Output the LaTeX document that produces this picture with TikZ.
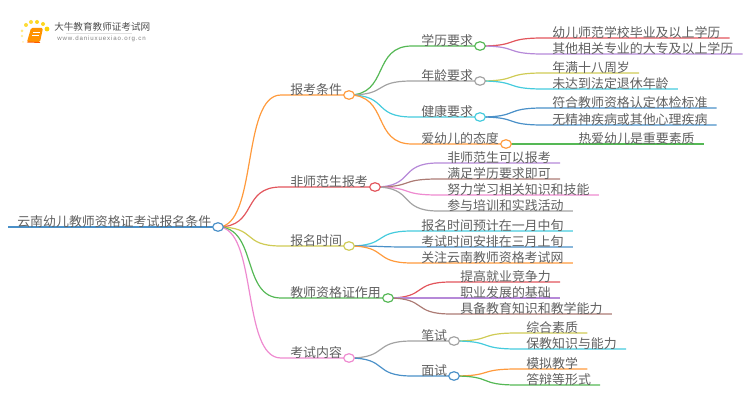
\documentclass[tikz,border=0pt]{standalone}
\usepackage{fontspec}
\setmainfont{Noto Sans CJK SC}
\newfontfamily\urlfont[LetterSpace=14]{Liberation Sans}
\usetikzlibrary{shapes.geometric, backgrounds}
\definecolor{cblue}{HTML}{4A90C8}
\definecolor{corange}{HTML}{FF9A3C}
\definecolor{cred}{HTML}{E2555C}
\definecolor{colive}{HTML}{CFCB55}
\definecolor{cgreen}{HTML}{55B855}
\definecolor{cpink}{HTML}{EE8AD0}
\definecolor{cgray}{HTML}{A3A3A3}
\definecolor{ccyan}{HTML}{45CBDD}
\definecolor{cpurple}{HTML}{B689D8}
\definecolor{cbrown}{HTML}{AC7B74}
\definecolor{ctext}{HTML}{606060}
\tikzset{
	item/.style={anchor=south west, inner xsep=6.75pt, inner ysep=0.2pt, text=ctext, font=\fontsize{9.7pt}{9.7pt}\selectfont, text height=8.6pt, text depth=0.2pt},
	dotnode/.style={draw=#1, ellipse, fill=white, line width=0.9pt, minimum width=8pt, minimum height=6.4pt, inner sep=0pt},
	conn/.style={line width=0.9pt},
	curve/.style={out=0, in=180, distance=30pt},
}
\begin{document}
\begin{tikzpicture}[x=0.75pt, y=-0.75pt]
	\useasboundingbox (0,0) rectangle (750,410);
	
	% logo
	\foreach \px/\py/\pr/\po in {26/25/2/0.8, 31/22/2/0.8, 37/22/2/0.9, 43/24/2/0.9, 47/29/2.4/1, 22/31/1.5/0.5, 22/36/1.4/0.4, 23/42/1/0.3}
		\fill[yellow!70!orange, opacity=\po] (\px,\py) circle (\pr);
	\fill[orange!85!yellow, rounded corners=1pt] (31,28) -- (43,28) -- (40,42) -- (27,42) -- cycle;
	\draw[white, line width=0.5pt] (33,32) -- (40,32) (32,35) -- (39,35);
	\draw[orange!70!red, line width=0.7pt] (27,42) -- (40,42.5);
	\node[anchor=west, inner sep=0pt, text=ctext!80!black, font=\fontsize{7.2pt}{7.2pt}\selectfont] (logotitle) at (54,27) {大牛教育教师证考试网};
	\node[anchor=west, inner sep=0pt, text=gray, font=\urlfont\fontsize{4.6pt}{5pt}\selectfont] (logourl) at (57,39) {www.daniuxuexiao.org.cn};
	\draw[black!12, line width=0.5pt] (logotitle.south west) ++(12,2) -- ++(66,0);
	
	% dots
	\node[dotnode=cblue] (root) at (218,227) {};
	\node[dotnode=corange] (d1) at (349,95) {};
	\node[dotnode=cred] (d2) at (375,187) {};
	\node[dotnode=colive] (d3) at (349,246) {};
	\node[dotnode=cgreen] (d4) at (388,298) {};
	\node[dotnode=cpink] (d5) at (349,358) {};
	\node[dotnode=cgreen] (d11) at (480,46) {};
	\node[dotnode=cgray] (d12) at (480,81) {};
	\node[dotnode=ccyan] (d13) at (480,117) {};
	\node[dotnode=corange] (d14) at (506,144) {};
	\node[dotnode=cgray] (d51) at (454,341) {};
	\node[dotnode=cblue] (d52) at (454,376) {};
	
	% main branches
	\node[item] (t0) at (8,227) {云南幼儿教师资格证考试报名条件};
	\node[item] (t1) at (281,95) {报考条件};
	\node[item] (t2) at (281,187) {非师范生报考};
	\node[item] (t3) at (281,246) {报名时间};
	\node[item] (t4) at (281,298) {教师资格证作用};
	\node[item] (t5) at (281,358) {考试内容};
	
	% second level
	\node[item] (t11) at (412,46) {学历要求};
	\node[item] (t12) at (412,81) {年龄要求};
	\node[item] (t13) at (412,117) {健康要求};
	\node[item] (t14) at (412,144) {爱幼儿的态度};
	\node[item] (t51) at (412,341) {笔试};
	\node[item] (t52) at (412,376) {面试};
	
	% leaves
	\node[item] (a1) at (543,38) {幼儿师范学校毕业及以上学历};
	\node[item] (a2) at (543,54) {其他相关专业的大专及以上学历};
	\node[item] (b1) at (543,73) {年满十八周岁};
	\node[item] (b2) at (543,89) {未达到法定退休年龄};
	\node[item] (c1) at (543,108) {符合教师资格认定体检标准};
	\node[item] (c2) at (543,125) {无精神疾病或其他心理疾病};
	\node[item] (e1) at (569,144) {热爱幼儿是重要素质};
	
	\node[item] (f1) at (438,163) {非师范生可以报考};
	\node[item] (f2) at (438,179) {满足学历要求即可};
	\node[item] (f3) at (438,195) {努力学习相关知识和技能};
	\node[item] (f4) at (438,211) {参与培训和实践活动};
	
	\node[item] (g1) at (412,231) {报名时间预计在一月中旬};
	\node[item] (g2) at (412,247) {考试时间安排在三月上旬};
	\node[item] (g3) at (412,263) {关注云南教师资格考试网};
	
	\node[item] (h1) at (451,282) {提高就业竞争力};
	\node[item] (h2) at (451,298) {职业发展的基础};
	\node[item] (h3) at (451,314) {具备教育知识和教学能力};
	
	\node[item] (k1) at (517,333) {综合素质};
	\node[item] (k2) at (517,349) {保教知识与能力};
	\node[item] (m1) at (517,369) {模拟教学};
	\node[item] (m2) at (517,385) {答辩等形式};
	
	% connectors go behind the dots
	\begin{scope}[on background layer]
		\draw[conn, cblue, line width=1.1pt] (t0.south west) -- (root.center);
		\draw[conn, corange] (root.center) to[curve] (t1.south west) -- (d1.center);
		\draw[conn, cred] (root.center) to[curve] (t2.south west) -- (d2.center);
		\draw[conn, colive] (root.center) to[curve] (t3.south west) -- (d3.center);
		\draw[conn, cgreen] (root.center) to[curve] (t4.south west) -- (d4.center);
		\draw[conn, cpink] (root.center) to[curve] (t5.south west) -- (d5.center);
		
		\draw[conn, cgreen] (d1.center) to[curve] (t11.south west) -- (d11.center);
		\draw[conn, cgray] (d1.center) to[curve] (t12.south west) -- (d12.center);
		\draw[conn, ccyan] (d1.center) to[curve] (t13.south west) -- (d13.center);
		\draw[conn, corange] (d1.center) to[curve] (t14.south west) -- (d14.center);
		\draw[conn, cgray] (d5.center) to[curve] (t51.south west) -- (d51.center);
		\draw[conn, cblue] (d5.center) to[curve] (t52.south west) -- (d52.center);
		
		\draw[conn, cred] (d11.center) to[curve] (a1.south west) -- (a1.south east);
		\draw[conn, cpurple] (d11.center) to[curve] (a2.south west) -- (a2.south east);
		\draw[conn, colive] (d12.center) to[curve] (b1.south west) -- (b1.south east);
		\draw[conn, ccyan] (d12.center) to[curve] (b2.south west) -- (b2.south east);
		\draw[conn, cblue] (d13.center) to[curve] (c1.south west) -- (c1.south east);
		\draw[conn, cblue] (d13.center) to[curve] (c2.south west) -- (c2.south east);
		\draw[conn, cgreen] (d14.center) -- (e1.south west) -- (e1.south east);
		
		\draw[conn, cpurple] (d2.center) to[curve] (f1.south west) -- (f1.south east);
		\draw[conn, cbrown] (d2.center) to[curve] (f2.south west) -- (f2.south east);
		\draw[conn, cpink] (d2.center) to[curve] (f3.south west) -- (f3.south east);
		\draw[conn, cgray] (d2.center) to[curve] (f4.south west) -- (f4.south east);
		
		\draw[conn, ccyan] (d3.center) to[curve] (g1.south west) -- (g1.south east);
		\draw[conn, cblue] (d3.center) to[curve] (g2.south west) -- (g2.south east);
		\draw[conn, corange] (d3.center) to[curve] (g3.south west) -- (g3.south east);
		
		\draw[conn, cred] (d4.center) to[curve] (h1.south west) -- (h1.south east);
		\draw[conn, cpurple] (d4.center) to[curve] (h2.south west) -- (h2.south east);
		\draw[conn, cbrown] (d4.center) to[curve] (h3.south west) -- (h3.south east);
		
		\draw[conn, colive] (d51.center) to[curve] (k1.south west) -- (k1.south east);
		\draw[conn, ccyan] (d51.center) to[curve] (k2.south west) -- (k2.south east);
		\draw[conn, corange] (d52.center) to[curve] (m1.south west) -- (m1.south east);
		\draw[conn, cgreen] (d52.center) to[curve] (m2.south west) -- (m2.south east);
	\end{scope}
	
\end{tikzpicture}
\end{document}
